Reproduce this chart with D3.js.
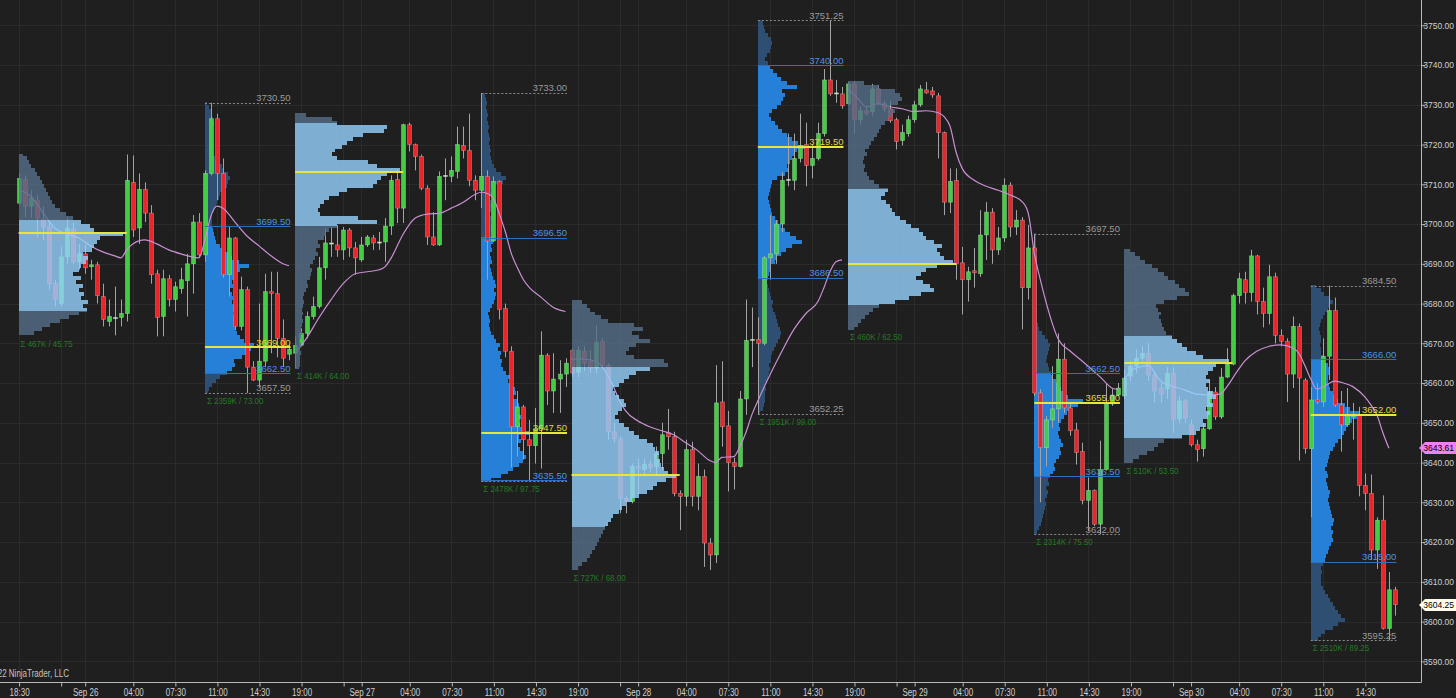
<!DOCTYPE html>
<html><head><meta charset="utf-8">
<script src="https://cdn.jsdelivr.net/npm/d3@7"></script>
<style>html,body{margin:0;padding:0;background:#1f1f1f;overflow:hidden}</style>
</head><body><svg id="c" width="1456" height="698"></svg>
<script>
// ---------------- DATA ----------------
// 30-minute bars, index 0 = Sep 25 18:30 ... index 229 = Sep 30 17:00
const opens = [3705.25,3711.25,3704.5,3706,3701.25,3699.25,3685,3680,3691.75,3698.75,3690.5,3692.5,3689.25,3689.75,3681.75,3675.5,3676.5,3676.5,3677.5,3710.5,3699,3708.75,3702.75,3687.5,3676.75,3686.25,3681,3683.75,3685.75,3690,3700.5,3692.25,3712.75,3726.5,3712.75,3687.25,3696.5,3674.25,3683.5,3664,3660.75,3665.5,3683,3682.5,3671.25,3667.25,
3667.5,3669.5,3672.5,3676.75,3679.25,3689,3695,3694.75,3693.5,3698.5,3694,3691,3694.75,3696.5,3695.25,3695.5,3699.5,3711.25,3704,3725,3720,3717,3709,3696.75,3694.75,3712,3712,3713.25,3719.75,3718.5,3711,3708.5,3712,3695.75,3710.75,3678.75,3668,3649,3654,3645.75,3644.25,3648.5,3667,3658,3661,3662.25,
3668.25,3662.75,3668,3665.5,3663.75,3670.5,3664.5,3647.75,3646,3631,3630.25,3639,3638.25,3639.5,3639,3642.25,3647.5,3646.5,3632.25,3631.5,3643.25,3631.5,3636.5,3619.75,3616.75,3655.25,3649.25,3640,3639,3656,3670.75,3671,3670,3691.5,3692.5,3700,3711,3711,3716.5,3720,3714.75,3716.5,3722.75,3736.25,3732.75,3732.75,
3730.25,3735.25,3726.25,3728.5,3728.25,3734,3730.25,3729,3726.25,3721,3722.75,3726.25,3730,3733.75,3733.5,3732.25,3723,3705.5,3711,3690.25,3686,3688.25,3687.5,3697.25,3703,3693.5,3696.5,3709.75,3699.25,3701,3684,3694,3657.5,3643.75,3650.75,3653.5,3666,3653.75,3648.25,3642.75,3630.5,3633,3624.5,3638.25,3654.75,3657,
3656.75,3661.75,3664.25,3666.25,3667.5,3662,3658.75,3658.5,3662.5,3651,3655.5,3649.5,3644.5,3643.5,3648.5,3657.75,3651.5,3661.5,3664.75,3682,3686,3682.75,3692,3680.5,3677.5,3686.75,3672,3670.5,3662.25,3674.25,3660.75,3643.5,3655.75,3655.25,3666.75,3678.25,3654.5,3649.5,3651.5,3652,3634.25,3632.25,3618,3625.5,3598.25,3608];
const highs = [3712.75,3712.25,3708.5,3707.25,3704.5,3700.5,3686,3694.25,3701.75,3700.25,3695,3694.75,3691,3690.5,3685,3681,3684.25,3681,3717.5,3717.25,3712.75,3710.5,3704.75,3688.5,3688.5,3687.25,3685.5,3689,3692.5,3702.25,3702.75,3713.5,3730.5,3727.75,3716.5,3699.25,3696.75,3686.75,3684.25,3665.5,3680,3687.5,3688,3688,3676,3669.75,
3671.75,3673.75,3678,3681.75,3691.75,3699,3699.25,3699.75,3699.25,3699,3695.5,3696.75,3697.25,3697.25,3698,3701.5,3712.25,3713.5,3725.25,3725.5,3720.25,3717.5,3709.75,3703,3713.25,3716.5,3717,3724.5,3724.5,3727.75,3712.25,3733,3713.5,3712,3711,3680,3669.25,3658,3654.5,3650.75,3653.75,3673,3667.5,3667.5,3665.75,3666.25,
3668.75,3669.25,3669.25,3668.25,3674.5,3671.25,3665,3650,3646.5,3631.5,3639.75,3641,3641,3640.5,3644,3650,3653.5,3647.75,3633,3645.75,3645.25,3639.75,3638.25,3621,3664.5,3665.5,3653,3641.25,3658,3681,3679,3676.5,3692,3702.25,3701,3713,3722.75,3722.75,3727.75,3725.5,3720,3725.5,3739,3751.25,3736.25,3734.5,
3735.75,3736,3729.5,3729.5,3735.25,3735,3731,3731,3726.75,3725,3727.25,3731,3735,3735.75,3734.5,3733,3723.25,3714,3714,3694.25,3689.25,3694,3703.5,3705.5,3704,3699.25,3711.5,3710.5,3703.5,3701.75,3699.75,3697.5,3658.5,3651.75,3664.25,3672.5,3670,3655,3650,3645,3636.25,3633.25,3645.5,3660,3658.5,3660,
3663.5,3665.5,3668.5,3669.25,3670,3662.5,3660,3664,3664,3656.75,3656,3650.75,3645.75,3650,3660.75,3659,3663.75,3668.75,3682.5,3687.75,3688,3693.5,3692.25,3684,3689.75,3687.75,3673.5,3671.25,3676.75,3675,3661.25,3659,3660,3671.25,3684.5,3681.5,3658,3658.75,3655,3654,3637.25,3637,3626.25,3631.75,3612.5,3608.75];
const lows = [3704.75,3701.75,3701.5,3696.75,3696,3683.5,3679.25,3679.25,3690,3690,3688.5,3687.5,3686,3680,3674.25,3674.25,3672,3674.25,3675.5,3696.75,3695,3700.5,3685,3671.75,3671.75,3679.25,3678,3682.5,3676.75,3682.5,3691.5,3690.5,3712.25,3706,3686.5,3681.75,3673.25,3673.25,3657.5,3660.5,3659,3664,3667.5,3666.5,3664,3665.75,
3663.75,3669.25,3671.25,3676,3678.75,3686,3691.75,3691.75,3691,3691.75,3687.25,3690.5,3694.25,3693.5,3693.5,3690.5,3697.25,3700.25,3700.25,3718.25,3713.5,3708.5,3694.75,3694.5,3694.5,3706,3710.5,3711.5,3716.5,3709.5,3706,3704,3686,3695.5,3676,3666.5,3638.75,3641.5,3640.75,3635.25,3639.75,3638.5,3654.5,3652.5,3652.5,3659,
3661.5,3661.5,3663,3662.5,3662.5,3664,3645.75,3645,3627.25,3627.25,3629.75,3632,3636.5,3637.5,3637,3638.25,3643.25,3631.5,3623,3629,3629,3628,3613.75,3613,3614.75,3644,3632.75,3633.25,3638.75,3652,3664,3652.25,3669.5,3686,3690,3698,3709.5,3708.5,3715.5,3709.5,3711.5,3716,3722,3732.25,3730.5,3729,
3730,3722.75,3725,3727.25,3727.25,3730,3728.25,3725.5,3718.75,3719.75,3722,3725.5,3729.5,3732.75,3731.75,3716.5,3702.25,3702.75,3686,3677.25,3680.5,3684,3686.75,3691,3690,3692.25,3695.5,3696.75,3697.25,3673.5,3681,3656.75,3630,3639,3648.75,3650,3652.5,3646.75,3639.5,3629.5,3622.75,3624,3622,3638,3654.25,3656.75,
3656,3660.5,3662.5,3665,3660.5,3655,3655,3656,3647.5,3650,3650,3644,3640.25,3641.5,3648.25,3650.75,3651,3661.25,3664.5,3680,3680,3680.5,3677.25,3674,3674.75,3670,3669.25,3655.25,3658.75,3640.5,3642.25,3626.25,3654.75,3654,3660.75,3654,3642.75,3649,3645.75,3631.5,3628,3615.5,3613.25,3598,3595.25,3601.5];
const closes = [3711.5,3704.5,3706.5,3701.5,3699.25,3685,3681,3691.75,3699,3690.5,3692.5,3689,3689.75,3682,3676,3676.75,3676.5,3677.5,3711,3698.5,3708.75,3702.75,3687.25,3676.5,3686.25,3681,3684.25,3686,3690,3700.5,3692.25,3712.75,3726.5,3712.75,3687.25,3696.5,3674.25,3683.5,3664,3660.75,3665.5,3683,3682.5,3671.25,3666.25,3668.5,
3669.5,3672.5,3676.75,3679.25,3689,3695.25,3695.25,3693.5,3698.5,3694,3691.5,3694.75,3696.75,3695.25,3695.5,3699.5,3711,3704,3725,3720,3717,3709,3696.75,3694.75,3712,3712.25,3713.5,3720,3718.5,3711,3708.5,3712,3695.75,3710.75,3678.5,3668,3649,3654,3645.75,3644.25,3648.5,3667,3658,3661,3662.25,3665,
3662.5,3668.25,3665,3663.75,3670.25,3664.5,3647.75,3646,3631,3630.25,3639,3638.5,3639.5,3638.75,3642.25,3647,3646.5,3632.25,3631.5,3643.25,3631.5,3636.5,3619.75,3616.75,3655,3649,3640,3639,3656,3670.75,3671,3670,3691.5,3692.5,3700,3711,3711.25,3716.5,3719.75,3714.75,3716.5,3722.75,3736.25,3732.75,3733,3729.75,
3735.25,3726.25,3728.5,3727.75,3734,3730.5,3729,3726,3720.75,3723,3726.25,3730,3734,3733,3732.5,3723,3705.5,3710.75,3690,3686,3688,3687.75,3697.25,3703,3693.5,3696.5,3709.75,3699.25,3701,3684,3694,3657.5,3643.75,3650.75,3653.5,3666,3653.75,3648,3642.5,3630.5,3633,3624.5,3638.25,3655,3657,3658.75,
3661.25,3664.25,3666.25,3667.5,3662,3658,3657.25,3662.5,3650.75,3655.5,3651.25,3644.5,3643.25,3648.5,3657.75,3651.5,3661.5,3664.75,3682,3686.25,3682.75,3692,3680.5,3677.5,3686.75,3672,3670.5,3662.25,3674.25,3661.25,3643.5,3655.75,3655.25,3666.75,3678.25,3654.5,3649.5,3651.75,3652,3634.25,3632.25,3618,3625.5,3598.25,3608,3604.25];

// session VWAP readings [bar index], [value]
const vwapIdx = [0,2,4,6,8,10,12,14,16,17,18,19,21,23,25,27,30,31,32,33,34,36,38,40,42,44,45,
 46,48,50,52,54,56,58,60,61,62,64,66,68,70,72,74,76,77,78,79,80,81,82,83,84,85,87,89,91,
 92,94,96,98,99,100,101,103,105,107,109,111,113,115,116,117,119,120,121,122,123,125,127,129,131,133,134,135,136,137,
 138,140,141,143,145,147,149,151,153,154,155,156,157,159,161,163,165,167,168,169,170,171,173,175,177,180,182,183,
 184,185,186,188,190,192,194,196,198,200,201,203,204,206,208,210,212,213,214,215,216,217,219,220,222,224,225,226,227,228];
const vwapVal = [3708.5,3707,3703,3699,3697.5,3696.5,3694.5,3693,3692,3691.5,3693.5,3695,3696,3695,3693.5,3692.5,3691.5,3696,3702,3704.5,3704,3700.5,3697,3694.5,3692,3690,3689.5,
 3667.5,3671.5,3676.5,3681,3685,3687.5,3688,3688.5,3689.3,3691.5,3697.5,3701.5,3702.5,3702.7,3704,3705.5,3707.5,3708,3707.7,3706.5,3702.5,3698,3692.5,3689,3686,3684,3681.5,3679,3678,
 3666,3666,3665.5,3662,3659,3655.5,3653,3650.5,3649,3648,3647,3645,3643,3640.5,3640,3641.3,3641.5,3644,3647.5,3652,3655.5,3662,3668,3673.5,3677.5,3680.5,3684,3688,3690.5,3691,
 3734,3731,3729.5,3730.3,3729.5,3729,3728.3,3728.5,3728,3727,3724.5,3718,3714,3711,3709.5,3708.5,3707.3,3705.6,3702.7,3692.7,3686,3680.1,3671,3668,3665.5,3661.5,3658.7,3658.4,
 3661,3663,3663.8,3664.4,3660.5,3659.2,3658.3,3657.2,3657,3657.3,3659,3663.5,3665.5,3668,3669.2,3669.6,3668.8,3667.5,3664.5,3661,3658.5,3659,3660.5,3660.2,3659.1,3656.5,3654.5,3652,3647.5,3643.61];
const vwapDayStart = [0,46,92,138,184];

// volume profiles (one per session): bar range, price stats, volume per 1-point row (relative)
const profStart = [0,31,46,77,92,123,138,169,184,215];
const profEnd   = [30,45,76,91,122,137,168,183,214,229];
const profRTH   = [false,true,false,true,false,true,false,true,false,true];
const profBase  = [3672,3657,3663,3635,3613,3652,3673,3622,3640,3595];
const profHigh  = [3717.5,3730.5,3727.75,3733,3681,3751.25,3736,3697.5,3693.5,3684.5];
const profLow   = [3671.75,3657.5,3663.75,3635.25,3613,3652.25,3673.5,3622,3640,3595.25];
const profPOC   = [3697.75,3669,3713,3647.5,3636.75,3719.5,3690,3655,3665,3652];
const profVAH   = [3701,3699.5,3725.25,3696.5,3664,3740,3708.75,3662.5,3671.75,3666];
const profVAL   = [3678.25,3662.5,3699.75,3635.5,3624,3686.5,3679.75,3636.5,3646.25,3615];
const profVolK  = [467,2359,414,2478,727,1951,460,2314,510,2510];
const prof0 = [15,22,30,40,48,58,65,62,66,60,63,58,62,55,60,52,58,60,64,66,62,70,72,75,78,100,72,68,60,52,45,40,35,32,30,28,26,24,22,20,18,16,12,10,8,4];
const prof1 = [6,8,14,22,30,45,55,62,60,75,88,95,100,80,72,66,62,60,64,62,58,60,62,56,58,55,52,58,55,62,65,72,90,70,55,50,42,30,22,20,18,16,15,14,15,14,18,22,25,28,30,38,45,48,52,48,40,34,28,20,15,16,14,15,14,16,15,14,18,16,14,12,8,5];
const prof2 = [4,5,5,5,6,5,6,5,6,7,6,7,8,7,8,7,8,9,8,9,10,12,11,14,15,16,14,17,19,22,20,24,22,28,30,32,40,78,60,24,22,24,28,32,42,50,75,78,82,88,100,78,70,40,35,38,45,50,55,65,85,88,40,35,10];
const prof3 = [20,40,55,65,78,85,92,88,80,75,82,78,100,85,80,78,82,75,70,78,72,65,70,68,60,55,62,50,45,40,42,38,40,35,38,30,25,20,18,15,18,16,14,18,22,25,28,30,26,30,28,24,22,20,18,22,20,18,22,20,24,22,20,22,24,20,22,18,20,22,20,18,22,20,25,45,50,40,30,25,22,20,18,20,18,16,18,15,14,16,14,12,14,12,10,12,10,8];
const prof4 = [6,10,15,18,20,22,24,26,28,30,32,35,38,40,45,48,52,58,65,72,78,82,90,100,92,88,86,85,82,84,80,78,72,65,60,55,50,45,42,44,48,52,50,45,42,40,45,50,55,62,75,92,88,60,52,55,62,75,65,58,68,60,35,28,22,18,15,10];
const prof5 = [5,10,12,14,15,14,16,15,18,20,22,24,22,26,28,30,34,38,42,45,48,45,42,40,38,35,32,30,32,28,25,22,20,18,20,22,24,28,35,40,48,58,70,90,78,65,55,48,42,35,30,28,25,22,20,22,24,26,30,40,55,62,60,65,70,75,80,100,82,70,60,50,42,35,28,22,30,40,48,52,55,50,80,60,48,40,32,25,20,15,18,24,28,30,26,20,15,12,10,6];
const prof6 = [6,10,12,16,20,24,30,45,58,70,82,78,72,65,70,75,85,100,92,88,85,90,82,75,72,68,60,55,50,45,42,40,36,32,35,38,30,25,20,18,15,16,14,15,18,16,20,22,25,28,30,32,35,38,42,45,40,48,52,50,45,30,15];
const prof7 = [6,10,14,16,18,20,22,24,22,26,28,25,30,28,32,38,42,40,45,50,55,52,58,55,50,48,52,50,55,60,68,75,90,100,70,60,55,50,45,38,35,30,28,25,26,28,30,32,28,22,15,10,8,6,6,5,6,5,6,5,5,6,5,5,6,5,5,6,5,5,4,5,4,4,3,3];
const prof8 = [8,14,22,28,32,38,55,68,72,78,75,80,82,78,85,82,88,85,80,78,82,78,80,85,88,100,75,68,60,55,50,45,40,38,36,35,33,35,32,30,38,50,62,58,52,48,42,38,32,26,20,15,10,5];
const prof9 = [15,22,30,45,55,70,62,55,50,45,40,35,30,25,22,20,22,24,22,25,30,32,35,38,42,45,44,46,42,45,48,44,42,40,38,36,38,40,36,34,32,35,33,30,34,36,38,40,45,50,55,62,68,72,75,85,95,100,80,70,55,48,45,40,38,36,35,38,40,35,30,25,22,20,18,22,20,18,16,18,20,25,30,35,40,45,38,28,20,10];
const profVols = [prof0,prof1,prof2,prof3,prof4,prof5,prof6,prof7,prof8,prof9];

const yTicks = [3590,3600,3610,3620,3630,3640,3650,3660,3670,3680,3690,3700,3710,3720,3730,3740,3750];
const xTickIdx = [0,7,11,19,26,33,40,47,54,57,65,72,79,86,93,100,103,111,118,125,132,139,146,149,157,164,171,178,185,192,195,203,210,217,224];
const xTickLab = ["18:30","","Sep 26","04:00","07:30","11:00","14:30","19:00","","Sep 27","04:00","07:30","11:00","14:30","19:00","","Sep 28","04:00","07:30","11:00","14:30","19:00","","Sep 29","04:00","07:30","11:00","14:30","19:00","","Sep 30","04:00","07:30","11:00","14:30"];

// ---------------- CHART ----------------
const W = 1456, H = 698, plotR = 1421, plotB = 682;
const nBars = opens.length;
const x = d3.scaleLinear().domain([0, nBars - 1]).range([18.6, 1394.9]);
const y = d3.scaleLinear().domain([3584.8, 3756.36]).range([plotB, 0]);
const FONT = "'Liberation Sans',Arial,sans-serif";

// squeeze text horizontally (the reference uses a condensed face)
function squeeze(sel, f) {
  sel.each(function () {
    const L = this.getComputedTextLength();
    if (L > 0) d3.select(this).attr('textLength', L * f).attr('lengthAdjust', 'spacingAndGlyphs');
  });
}

const svg = d3.select('#c');
svg.append('rect').attr('width', W).attr('height', H).attr('fill', '#1f1f1f');
const defs = svg.append('defs');
defs.append('clipPath').attr('id', 'plot').append('rect').attr('x', 0).attr('y', 0).attr('width', plotR).attr('height', plotB);

const root = svg.append('g').attr('clip-path', 'url(#plot)');

// grid
const grid = root.append('g').attr('stroke', '#2b2b2b').attr('stroke-width', 1);
grid.selectAll('line.h').data(yTicks).join('line').attr('class', 'h')
  .attr('x1', 0).attr('x2', plotR).attr('y1', d => Math.round(y(d)) + 0.5).attr('y2', d => Math.round(y(d)) + 0.5);
grid.selectAll('line.v').data(xTickIdx).join('line').attr('class', 'v')
  .attr('y1', 0).attr('y2', plotB).attr('x1', d => Math.round(x(d)) + 0.5).attr('x2', d => Math.round(x(d)) + 0.5);

// profile rows
function profileRows(k) {
  const rows = [];
  const lo = profLow[k] - 0.125, hi = profHigh[k] + 0.125;
  const vah = profVAH[k] + 0.125, val = profVAL[k] - 0.125;
  profVols[k].forEach((v, j) => {
    const a = Math.max(profBase[k] + j, lo), b = Math.min(profBase[k] + j + 1, hi);
    if (b <= a) return;
    const cuts = [a, b, val, vah].filter(c => c >= a && c <= b).sort((m, n) => m - n);
    for (let t = 0; t < cuts.length - 1; t++) {
      const s = cuts[t], e = cuts[t + 1];
      if (e - s < 1e-6) continue;
      const mid = (s + e) / 2;
      rows.push({ p0: s, p1: e, v, va: mid >= val && mid <= vah });
    }
  });
  return rows;
}
function sessW(k) { return x(profEnd[k]) - x(profStart[k]); }

function drawProfile(layer, k, colVA, colOut) {
  const x0 = x(profStart[k]);
  const w = d3.scaleLinear().domain([0, 100]).range([0, 0.58 * sessW(k)]);
  layer.append('g').selectAll('rect').data(profileRows(k)).join('rect')
    .attr('x', x0).attr('width', d => w(d.v))
    .attr('y', d => y(d.p1)).attr('height', d => y(d.p0) - y(d.p1))
    .attr('fill', d => d.va ? colVA : colOut)
    .attr('shape-rendering', 'crispEdges');
}

// RTH profiles below candles
const rthLayer = root.append('g');
profStart.forEach((s, k) => { if (profRTH[k]) drawProfile(rthLayer, k, 'rgb(38,128,216)', 'rgb(46,78,114)'); });

// candles
const idx = d3.range(nBars);
const cg = root.append('g');
cg.selectAll('line').data(idx).join('line')
  .attr('x1', i => Math.round(x(i)) + 0.5).attr('x2', i => Math.round(x(i)) + 0.5)
  .attr('y1', i => y(highs[i])).attr('y2', i => y(lows[i]))
  .attr('stroke', '#a3a3a3').attr('stroke-width', 1);
cg.selectAll('rect').data(idx).join('rect')
  .attr('x', i => Math.round(x(i)) - 1.5).attr('width', 4)
  .attr('y', i => y(Math.max(opens[i], closes[i])))
  .attr('height', i => Math.max(1.2, Math.abs(y(opens[i]) - y(closes[i]))))
  .attr('fill', i => Math.abs(closes[i] - opens[i]) < 0.3 ? '#d8d8d8' : (closes[i] > opens[i] ? '#44cc44' : '#e8262b'))
  .attr('stroke', i => closes[i] >= opens[i] ? 'rgba(200,255,200,0.45)' : 'rgba(255,190,190,0.45)')
  .attr('stroke-width', 0.7);

// VWAP per trading day
const vwLine = d3.line().x(d => x(d[0])).y(d => y(d[1])).curve(d3.curveMonotoneX);
const vwSegs = vwapDayStart.map((s, j) => {
  const e = j + 1 < vwapDayStart.length ? vwapDayStart[j + 1] : Infinity;
  return vwapIdx.map((b, t) => [b, vwapVal[t]]).filter(d => d[0] >= s && d[0] < e);
});
root.append('g').selectAll('path').data(vwSegs).join('path')
  .attr('d', vwLine).attr('fill', 'none').attr('stroke', '#c98fd3').attr('stroke-width', 1.2);

// ETH profiles above candles, semi transparent
const ethLayer = root.append('g').attr('opacity', 0.8);
profStart.forEach((s, k) => { if (!profRTH[k]) drawProfile(ethLayer, k, 'rgb(150,210,255)', 'rgb(86,112,138)'); });

// profile lines & labels
const ann = root.append('g');
profStart.forEach((s, k) => {
  const x0 = x(profStart[k]);
  const x1 = x(profEnd[k]) + 1.5;
  if (profRTH[k]) {
    const lines = [
      { p: profHigh[k], c: '#8a8a8a', dash: '2,2', w: 1, tc: '#9a9a9a', lab: true },
      { p: profVAH[k], c: '#2f6fc0', dash: null, w: 1, tc: '#4b93e6', lab: true },
      { p: profPOC[k], c: '#e6e63c', dash: null, w: 2, tc: '#e2d83a', lab: true },
      { p: profVAL[k], c: '#2f6fc0', dash: null, w: 1, tc: '#4b93e6', lab: true },
      { p: profLow[k], c: '#8a8a8a', dash: '2,2', w: 1, tc: '#9a9a9a', lab: Math.abs(profLow[k] - profVAL[k]) > 1.5 }
    ];
    lines.forEach(L => {
      const yy = Math.round(y(L.p)) + (L.w === 1 ? 0.5 : 0);
      ann.append('line').attr('x1', x0).attr('x2', x1).attr('y1', yy).attr('y2', yy)
        .attr('stroke', L.c).attr('stroke-width', L.w).attr('stroke-dasharray', L.dash);
      if (L.lab) ann.append('text').attr('class', 'plab').attr('x', x1).attr('y', y(L.p) - 1.5).attr('text-anchor', 'end')
        .attr('font-family', FONT).attr('font-size', 9.5).attr('fill', L.tc).text(L.p.toFixed(2));
    });
  } else {
    ann.append('line').attr('x1', x0).attr('x2', x0 + 0.6 * sessW(k))
      .attr('y1', Math.round(y(profPOC[k]))).attr('y2', Math.round(y(profPOC[k])))
      .attr('stroke', '#e6e63c').attr('stroke-width', 2);
  }
  ann.append('text').attr('class', 'slab').attr('x', x0 + 2).attr('y', y(profLow[k]) + 11)
    .attr('font-family', FONT).attr('font-size', 9).attr('fill', '#237a23')
    .text('\u03A3 ' + profVolK[k] + 'K / ' + (profHigh[k] - profLow[k]).toFixed(2));
});
squeeze(ann.selectAll('text.slab'), 0.88);

// copyright (clipped at the left edge, as in the original screenshot)
const cp = svg.append('text').attr('x', 69).attr('y', 677).attr('text-anchor', 'end')
  .attr('font-family', FONT).attr('font-size', 10).attr('fill', '#c4c4c4').text('\u00A9 2022 NinjaTrader, LLC');
squeeze(cp, 0.8);

// axes
const axCol = '#b8b8b8';
svg.append('line').attr('x1', plotR + 0.5).attr('x2', plotR + 0.5).attr('y1', 0).attr('y2', plotB + 0.5).attr('stroke', axCol);
svg.append('line').attr('x1', 0).attr('x2', plotR + 0.5).attr('y1', plotB + 0.5).attr('y2', plotB + 0.5).attr('stroke', axCol);

const yAxis = d3.axisRight(y).tickValues(yTicks).tickFormat(d => d.toFixed(2)).tickSize(4).tickPadding(3);
const ya = svg.append('g').attr('transform', `translate(${plotR + 0.5},0)`).call(yAxis);
ya.select('.domain').remove();
ya.selectAll('line').attr('stroke', axCol);
ya.selectAll('text').attr('fill', '#cfcfcf').attr('font-family', FONT).attr('font-size', 8.5)
  .attr('text-anchor', 'end').attr('x', 1454 - plotR - 0.5);

const xAxis = d3.axisBottom(x).tickValues(xTickIdx).tickFormat((d, i) => xTickLab[i]).tickSize(4).tickPadding(2);
const xa = svg.append('g').attr('transform', `translate(0.5,${plotB + 0.5})`).call(xAxis);
xa.select('.domain').remove();
xa.selectAll('line').attr('stroke', axCol);
xa.selectAll('text').attr('fill', '#cfcfcf').attr('font-family', FONT).attr('font-size', 10);
squeeze(xa.selectAll('text'), 0.8);

// last-value markers
function marker(val, fill) {
  const yy = Math.round(y(val));
  svg.append('path').attr('d', `M${plotR - 2},${yy} L${plotR + 4},${yy - 6} L${W},${yy - 6} L${W},${yy + 6} L${plotR + 4},${yy + 6} Z`)
    .attr('fill', fill);
  svg.append('text').attr('x', 1454).attr('y', yy + 3).attr('text-anchor', 'end')
    .attr('font-family', FONT).attr('font-size', 8.5).attr('fill', '#000').text(val.toFixed(2));
}
marker(vwapVal[vwapVal.length - 1], '#ee82ee');
marker(closes[nBars - 1], '#fffbea');
</script></body></html>
